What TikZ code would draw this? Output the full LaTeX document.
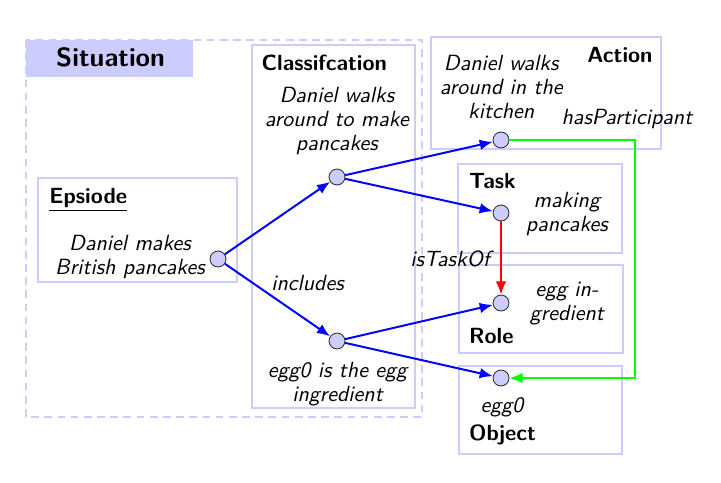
\documentclass[tikz,border=0pt]{standalone}
\usetikzlibrary{arrows.meta, positioning}

\begin{document}
\begin{tikzpicture}[
    every node/.style={font=\sffamily},
]

% ---------------------------------------------------------------- colours
\definecolor{framecol}{HTML}{CCCCFF}   % the boxes, the title band
\definecolor{dotcol}{HTML}{CCCCFF}     % the individuals
\definecolor{relblue}{HTML}{0000FF}
\definecolor{relred}{HTML}{FF0000}
\definecolor{relgreen}{HTML}{00FF00}

% ================================================================
% Geometry, taken from the drawing at 0.016 cm a pixel.
%
%   situation (dashed)  x 0.42 .. 6.75   y -0.64 .. -6.67
%   classification      x 4.03 .. 6.64   y -0.72 .. -6.53
%   episode             x 0.61 .. 3.79   y -2.85 .. -4.51
%   right column of boxes, dots all on x = 8.02
%   green return line runs down x = 10.16
% ================================================================

\def\dotx{8.016}
\def\headx{7.50}

\tikzset{
    frame/.style={draw=framecol, line width=0.9pt},
    sitframe/.style={draw=framecol, line width=0.9pt, dashed,
        dash pattern=on 3.5pt off 2.5pt},
    dot/.style={circle, draw=black!80, line width=0.4pt, fill=dotcol,
        minimum size=0.255cm, inner sep=0pt},
    desc/.style={font=\fontsize{10}{11}\sffamily\itshape, align=center,
        inner sep=0pt},
    head/.style={font=\sffamily\bfseries, inner sep=0pt, anchor=base west},
    rel/.style={line width=0.9pt, -{Latex[length=2.1mm, width=1.7mm]}},
}

\useasboundingbox (0,0) rectangle (11.536,-7.712);

% ================================================================ frames
\fill[framecol] (0.416,-0.64) rectangle (3.088,-1.232);
\draw[sitframe] (0.416,-0.64) rectangle (6.752,-6.672);
\draw[frame] (4.032,-0.72) rectangle (6.64,-6.528);     % classification
\draw[frame] (0.608,-2.848) rectangle (3.792,-4.512);   % episode
\draw[frame] (6.896,-0.592) rectangle (10.576,-2.384);  % action
\draw[frame] (7.328,-2.624) rectangle (9.952,-4.048);   % task
\draw[frame] (7.344,-4.24) rectangle (9.968,-5.648);    % role
\draw[frame] (7.344,-5.856) rectangle (9.952,-7.264);   % object

% ================================================================ headings
\node[head, font=\sffamily\bfseries\large, anchor=base]
    (sittitle) at (1.77,-1.07) {Situation};
\node[head] (clstitle) at (4.18,-1.12) {Classifcation};
\node[head] (eptitle)  at (0.784,-3.25) {\underline{Epsiode}};
\node[head, anchor=base] (acttitle) at (9.92,-1.0) {Action};
\node[head] (tasktitle) at (\headx,-3.02) {Task};
\node[head] (roletitle) at (\headx,-5.49) {Role};
\node[head] (objtitle)  at (\headx,-7.04) {Object};

% ================================================================ individuals
\node[dot] (ep)   at (3.488,-4.144) {};
\node[dot] (cls1) at (5.392,-2.832) {};
\node[dot] (cls2) at (5.392,-5.456) {};
\node[dot] (act)  at (\dotx,-2.24)  {};
\node[dot] (task) at (\dotx,-3.408) {};
\node[dot] (role) at (\dotx,-4.848) {};
\node[dot] (obj)  at (\dotx,-6.048) {};

% ================================================================ their texts
\node[desc] (epdesc)   at (2.08,-4.11) {Daniel makes\\British pancakes};
\node[desc] (cls1desc) at (5.39,-1.94) {Daniel walks\\around to make\\pancakes};
\node[desc] (cls2desc) at (5.40,-6.14) {egg0 is the egg\\ingredient};
\node[desc] (actdesc)  at (8.02,-1.39) {Daniel walks\\around in the\\kitchen};
\node[desc] (taskdesc) at (9.07,-3.42) {making\\pancakes};
\node[desc] (roledesc) at (9.07,-4.86) {egg in-\\gredient};
\node[desc] (objdesc)  at (8.03,-6.51) {egg0};

% ================================================================ relations
\draw[rel, relblue] (ep) -- (cls1);
\draw[rel, relblue] (ep) -- (cls2);
\draw[rel, relblue] (cls1) -- (act);
\draw[rel, relblue] (cls1) -- (task);
\draw[rel, relblue] (cls2) -- (role);
\draw[rel, relblue] (cls2) -- (obj);
\draw[rel, relred]  (task) -- (role);

\coordinate (gcorner) at (10.16,-2.24);
\draw[rel, relgreen] (act) -- (gcorner) |- (obj);

\node[desc] (incl)    at (4.92,-4.53) {includes};
\node[desc] (taskof)  at (7.20,-4.14) {isTaskOf};
\node[desc] (haspart) at (10.03,-1.91) {hasParticipant};

\end{tikzpicture}
\end{document}
